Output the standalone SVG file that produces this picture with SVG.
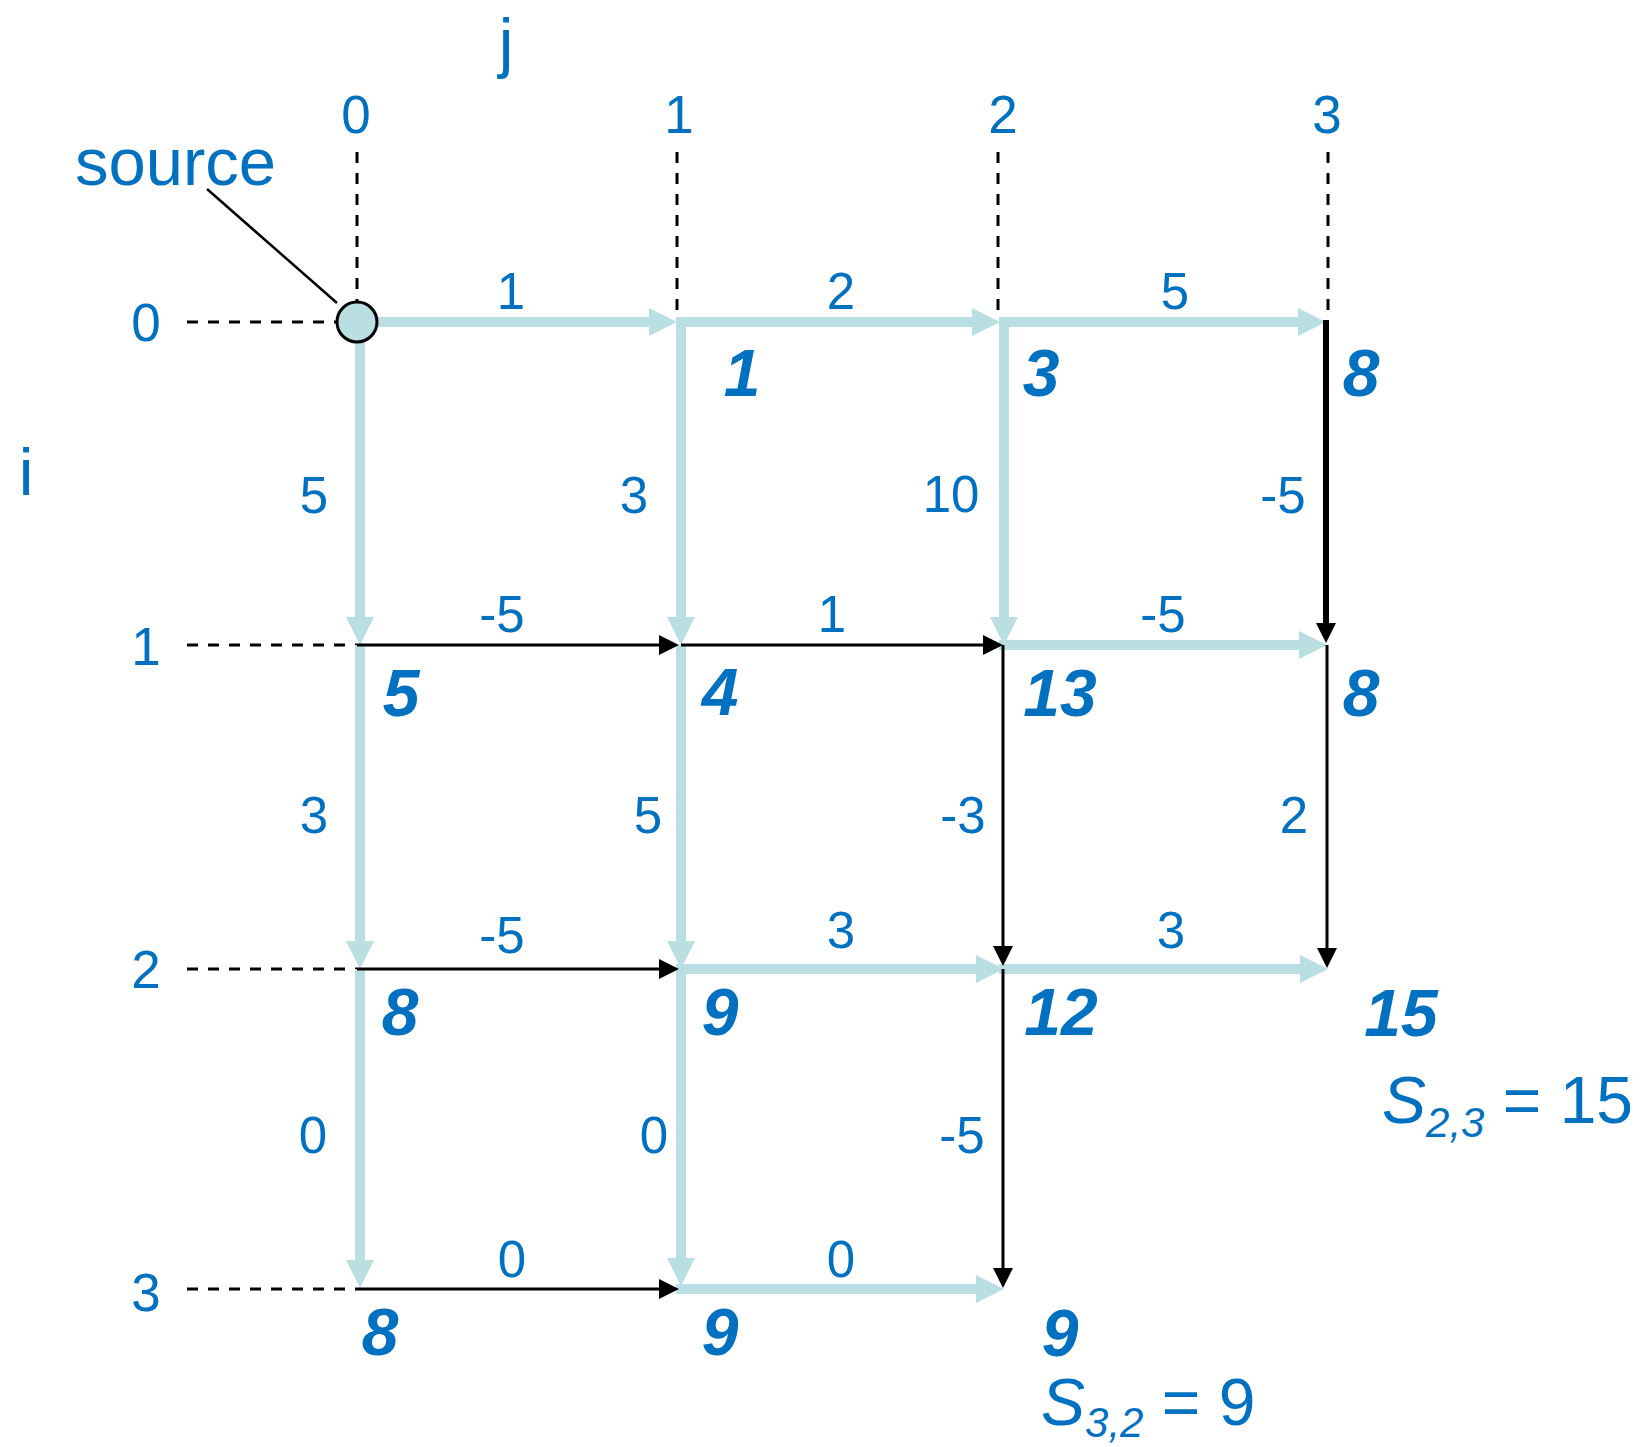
<svg xmlns="http://www.w3.org/2000/svg" width="1643" height="1447" viewBox="0 0 1643 1447">
<style>
text{font-family:"Liberation Sans",Arial,sans-serif;fill:#0070C0}
.ax{font-size:53px;text-anchor:middle}
.w{font-size:51px;text-anchor:middle}
.v{font-size:66px;font-weight:bold;font-style:italic;text-anchor:middle}
.big{font-size:66px}
.lb{stroke:#BADFE3;stroke-width:10;fill:none;marker-end:url(#ah-lb)}
.bk{stroke:#000;stroke-width:3;fill:none;marker-end:url(#ah-bk)}
.bk6{stroke:#000;stroke-width:6;fill:none;marker-end:url(#ah-bk)}
.dash{stroke:#000;stroke-width:3;stroke-dasharray:11 10;fill:none}
</style>
<defs>
<marker id="ah-lb" markerUnits="userSpaceOnUse" viewBox="0 0 28 28" refX="14" refY="14" markerWidth="28" markerHeight="28" orient="auto">
<path d="M0,0 L28,14 L0,28 z" fill="#BADFE3"/>
</marker>
<marker id="ah-bk" markerUnits="userSpaceOnUse" viewBox="0 0 20 20" refX="10" refY="10" markerWidth="20" markerHeight="20" orient="auto">
<path d="M0,0 L20,10 L0,20 z" fill="#000"/>
</marker>
</defs>
<rect width="1643" height="1447" fill="#fff"/>

<g id="axes">
<text x="506" y="65" style="font-size:66px;text-anchor:middle">j</text>
<text x="26" y="495" style="font-size:66px;text-anchor:middle">i</text>
<text class="ax" x="356" y="133">0</text>
<text class="ax" x="679" y="133">1</text>
<text class="ax" x="1003" y="133">2</text>
<text class="ax" x="1327" y="133">3</text>
<text class="ax" x="146" y="341">0</text>
<text class="ax" x="146" y="665">1</text>
<text class="ax" x="146" y="988">2</text>
<text class="ax" x="146" y="1311">3</text>
<path class="dash" d="M357,152 V302 M677,152 V320 M998,152 V320 M1328,152 V318"/>
<path class="dash" d="M187,322 H336 M187,645 H357 M187,969 H357 M187,1289 H357"/>
</g>

<g id="source-label">
<text x="75" y="185" style="font-size:67px">source</text>
<line x1="207" y1="189" x2="337" y2="303" stroke="#000" stroke-width="2.5"/>
</g>

<g id="connectors">
<line class="lb" x1="377" y1="322" x2="663" y2="322"/>
<line class="lb" x1="676" y1="322" x2="986" y2="322"/>
<line class="lb" x1="999" y1="322" x2="1312" y2="322"/>
<line class="lb" x1="999" y1="645" x2="1313" y2="645"/>
<line class="lb" x1="676" y1="969" x2="990" y2="969"/>
<line class="lb" x1="999" y1="969" x2="1314" y2="969"/>
<line class="lb" x1="676" y1="1289" x2="990" y2="1289"/>
<line class="lb" x1="360" y1="341" x2="360" y2="631"/>
<line class="lb" x1="360" y1="645" x2="360" y2="955"/>
<line class="lb" x1="360" y1="969" x2="360" y2="1274"/>
<line class="lb" x1="681" y1="317" x2="681" y2="631"/>
<line class="lb" x1="681" y1="645" x2="681" y2="955"/>
<line class="lb" x1="681" y1="969" x2="681" y2="1272"/>
<line class="lb" x1="1004" y1="317" x2="1004" y2="631"/>
<line class="bk" x1="357" y1="645" x2="669" y2="645"/>
<line class="bk" x1="681" y1="645" x2="993" y2="645"/>
<line class="bk" x1="357" y1="969" x2="669" y2="969"/>
<line class="bk" x1="357" y1="1289" x2="669" y2="1289"/>
<line class="bk" x1="1003" y1="645" x2="1003" y2="956"/>
<line class="bk" x1="1003" y1="969" x2="1003" y2="1278"/>
<line class="bk6" x1="1326" y1="320" x2="1326" y2="633"/>
<line class="bk" x1="1327" y1="645" x2="1327" y2="958"/>
</g>

<g id="edge-weights">
<text class="w" x="511" y="309">1</text>
<text class="w" x="841" y="309">2</text>
<text class="w" x="1175" y="309">5</text>
<text class="w" x="502" y="632">-5</text>
<text class="w" x="832" y="632">1</text>
<text class="w" x="1163" y="632">-5</text>
<text class="w" x="502" y="953">-5</text>
<text class="w" x="841" y="948">3</text>
<text class="w" x="1171" y="948">3</text>
<text class="w" x="512" y="1277">0</text>
<text class="w" x="841" y="1277">0</text>
<text class="w" x="314" y="513">5</text>
<text class="w" x="314" y="833">3</text>
<text class="w" x="313" y="1153">0</text>
<text class="w" x="634" y="513">3</text>
<text class="w" x="648" y="833">5</text>
<text class="w" x="654" y="1153">0</text>
<text class="w" x="951" y="512">10</text>
<text class="w" x="963" y="833">-3</text>
<text class="w" x="962" y="1153">-5</text>
<text class="w" x="1283" y="513">-5</text>
<text class="w" x="1294" y="833">2</text>
</g>

<g id="node-0-0"><circle cx="357" cy="322" r="20" fill="#BADFE3" stroke="#000" stroke-width="3"/></g>
<g id="node-0-1"><text class="v" x="742" y="396">1</text></g>
<g id="node-0-2"><text class="v" x="1041" y="396">3</text></g>
<g id="node-0-3"><text class="v" x="1361" y="396">8</text></g>
<g id="node-1-0"><text class="v" x="401" y="716">5</text></g>
<g id="node-1-1"><text class="v" x="720" y="715">4</text></g>
<g id="node-1-2"><text class="v" x="1060" y="716">13</text></g>
<g id="node-1-3"><text class="v" x="1361" y="716">8</text></g>
<g id="node-2-0"><text class="v" x="400" y="1035">8</text></g>
<g id="node-2-1"><text class="v" x="720" y="1035">9</text></g>
<g id="node-2-2"><text class="v" x="1061" y="1035">12</text></g>
<g id="node-2-3"><text class="v" x="1401" y="1036">15</text></g>
<g id="node-3-0"><text class="v" x="380" y="1355">8</text></g>
<g id="node-3-1"><text class="v" x="720" y="1355">9</text></g>
<g id="node-3-2"><text class="v" x="1060" y="1356">9</text></g>

<g id="score-labels">
<text class="big" x="1382" y="1123"><tspan font-style="italic">S</tspan><tspan font-style="italic" font-size="42" dy="14">2,3</tspan><tspan dy="-14"> = 15</tspan></text>
<text class="big" x="1041" y="1425"><tspan font-style="italic">S</tspan><tspan font-style="italic" font-size="42" dy="12">3,2</tspan><tspan dy="-12"> = 9</tspan></text>
</g>
</svg>
